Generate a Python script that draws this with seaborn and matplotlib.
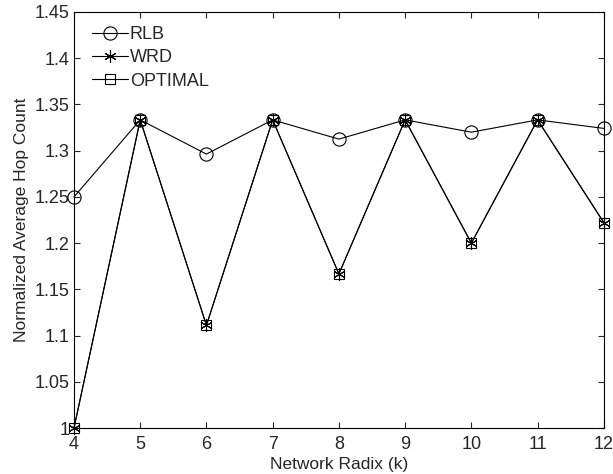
import matplotlib
matplotlib.use("Agg")
import matplotlib.pyplot as plt
from matplotlib.ticker import FuncFormatter, MultipleLocator
import numpy as np
import pandas as pd
import seaborn as sns

radix = [4, 5, 6, 7, 8, 9, 10, 11, 12]
rlb = [1.25, 1.3333, 1.2963, 1.3333, 1.3125, 1.3333, 1.32, 1.3333, 1.3241]
wrd = [1.0, 1.3333, 1.1111, 1.3333, 1.1667, 1.3333, 1.2, 1.3333, 1.2222]
optimal = [1.0, 1.3333, 1.1111, 1.3333, 1.1667, 1.3333, 1.2, 1.3333, 1.2222]

sns.set_style("ticks")
plt.rcParams["font.family"] = ["Liberation Sans", "DejaVu Sans"]

fig = plt.figure(figsize=(6.13, 4.74), dpi=100)
ax = fig.add_axes([0.1207, 0.097, 0.8643, 0.8777])

series = [
    ("RLB", rlb, dict(marker="o", markersize=9.5, markerfacecolor="none")),
    ("WRD", wrd, dict(marker=(6, 2, 0), markersize=9)),
    ("OPTIMAL", optimal, dict(marker="s", markersize=7.5, markerfacecolor="none")),
]

for name, vals, style in series:
    df = pd.DataFrame({"k": radix, "v": vals})
    sns.lineplot(
        data=df,
        x="k",
        y="v",
        ax=ax,
        color="black",
        linewidth=0.8,
        markeredgecolor="black",
        markeredgewidth=0.8,
        label=name,
        clip_on=False,
        zorder=3,
        **style,
    )

ax.set_xlim(4, 12)
ax.set_ylim(1, 1.45)
ax.xaxis.set_major_locator(MultipleLocator(1))
ax.yaxis.set_major_locator(MultipleLocator(0.05))
ax.yaxis.set_major_formatter(FuncFormatter(lambda y, p: f"{y:g}"))
ax.tick_params(direction="in", top=True, right=True, labelsize=13, length=4, width=0.8)
ax.tick_params(axis="x", pad=5.5)
ax.tick_params(axis="y", pad=3)
for sp in ax.spines.values():
    sp.set_linewidth(0.8)
    sp.set_color("black")

ax.set_xlabel("Network Radix (k)", fontsize=12.5, labelpad=3)
ax.set_ylabel("Normalized Average Hop Count", fontsize=12.5, labelpad=4)

ax.legend(loc="upper left", bbox_to_anchor=(0.017, 0.988), frameon=False, fontsize=13,
          handlelength=2.0, handletextpad=0.1, borderaxespad=0.2, labelspacing=0.35,
          borderpad=0.3)

fig.savefig("out.png", dpi=100)
